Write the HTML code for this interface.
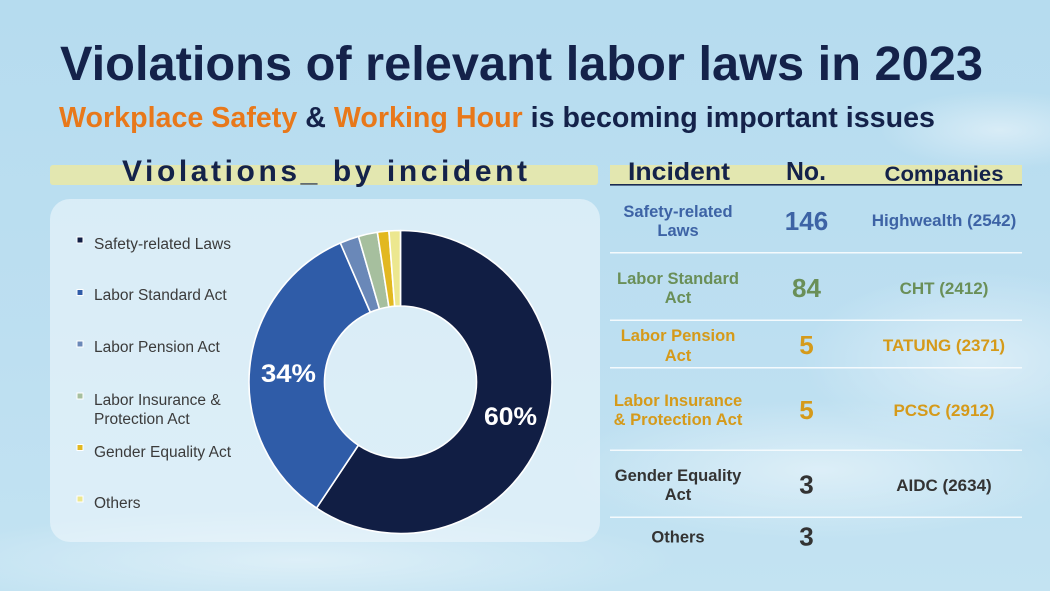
<!DOCTYPE html>
<html><head><meta charset="utf-8"><style>
html,body{margin:0;padding:0;}
body{width:1050px;height:591px;overflow:hidden;}
svg{display:block;}
</style></head><body>
<svg width="1050" height="591" viewBox="0 0 1050 591" xmlns="http://www.w3.org/2000/svg">
<defs>
<linearGradient id="sky" x1="0" y1="0" x2="0" y2="1">
<stop offset="0" stop-color="#b6dcef"/>
<stop offset="0.6" stop-color="#bddff1"/>
<stop offset="1" stop-color="#c3e3f2"/>
</linearGradient>
<radialGradient id="c1" cx="0.5" cy="0.5" r="0.5">
<stop offset="0" stop-color="#ffffff" stop-opacity="0.45"/>
<stop offset="1" stop-color="#ffffff" stop-opacity="0"/>
</radialGradient>
</defs>
<rect width="1050" height="591" fill="url(#sky)"/>
<ellipse cx="980" cy="360" rx="180" ry="90" fill="url(#c1)"/>
<ellipse cx="820" cy="470" rx="260" ry="70" fill="url(#c1)"/>
<ellipse cx="300" cy="560" rx="380" ry="50" fill="url(#c1)"/>
<ellipse cx="1000" cy="130" rx="120" ry="40" fill="url(#c1)"/>

<g font-family="'Liberation Sans', Arial, sans-serif" font-weight="bold">
<text x="60" y="80" font-size="48" fill="#14224a" textLength="923" lengthAdjust="spacingAndGlyphs">Violations of relevant labor laws in 2023</text>
<text x="59" y="127" font-size="28.5" fill="#14224a" textLength="876" lengthAdjust="spacingAndGlyphs"><tspan fill="#e8781a">Workplace Safety</tspan> &amp; <tspan fill="#e8781a">Working Hour</tspan> is becoming important issues</text>
</g>

<!-- section header band -->
<rect x="50" y="165" width="548" height="20" rx="3" fill="#e3e7b0"/>
<text x="122" y="181" font-family="'Liberation Sans', Arial, sans-serif" font-weight="bold" font-size="30" fill="#14224a" textLength="405" lengthAdjust="spacing">Violations_ by incident</text>

<!-- table header -->
<rect x="610" y="165" width="412" height="19" fill="#e3e7b0"/>
<rect x="610" y="184" width="412" height="1.6" fill="#1c2a50"/>
<g font-family="'Liberation Sans', Arial, sans-serif" font-weight="bold" fill="#14224a" text-anchor="middle">
<text x="679" y="180" font-size="25" textLength="102" lengthAdjust="spacingAndGlyphs">Incident</text>
<text x="806" y="180" font-size="26" textLength="40" lengthAdjust="spacingAndGlyphs">No.</text>
<text x="944" y="181" font-size="21" textLength="119" lengthAdjust="spacingAndGlyphs">Companies</text>
</g>

<!-- panel -->
<rect x="50" y="199" width="550" height="343" rx="20" fill="#eef7fb" fill-opacity="0.6"/>

<!-- legend -->
<g font-family="'Liberation Sans', Arial, sans-serif" font-size="15.5" fill="#3b3b3b">
<rect x="77" y="237" width="6" height="6" fill="#111e44" stroke="#fff" stroke-width="1"/>
<text x="94" y="249">Safety-related Laws</text>
<rect x="77" y="289.5" width="6" height="6" fill="#2f5ca8" stroke="#fff" stroke-width="1"/>
<text x="94" y="300">Labor Standard Act</text>
<rect x="77" y="341" width="6" height="6" fill="#6a88b8" stroke="#fff" stroke-width="1"/>
<text x="94" y="352">Labor Pension Act</text>
<rect x="77" y="393" width="6" height="6" fill="#a6bf9e" stroke="#fff" stroke-width="1"/>
<text x="94" y="405">Labor Insurance &amp;</text>
<text x="94" y="424">Protection Act</text>
<rect x="77" y="444.5" width="6" height="6" fill="#e2b820" stroke="#fff" stroke-width="1"/>
<text x="94" y="457">Gender Equality Act</text>
<rect x="77" y="496" width="6" height="6" fill="#ece78f" stroke="#fff" stroke-width="1"/>
<text x="94" y="508">Others</text>
</g>

<!-- donut -->
<g stroke="#ffffff" stroke-width="1.6" stroke-linejoin="round">
<path d="M400.5,230.5 A151.5,151.5 0 1 1 316.52,508.09 L358.37,445.25 A76,76 0 1 0 400.5,306 Z" fill="#111e44"/>
<path d="M316.52,508.09 A151.5,151.5 0 0 1 340.31,242.97 L370.31,312.25 A76,76 0 0 0 358.37,445.25 Z" fill="#2f5ca8"/>
<path d="M340.31,242.97 A151.5,151.5 0 0 1 358.49,236.44 L379.43,308.98 A76,76 0 0 0 370.31,312.25 Z" fill="#6a88b8"/>
<path d="M358.49,236.44 A151.5,151.5 0 0 1 377.37,232.27 L388.89,306.89 A76,76 0 0 0 379.43,308.98 Z" fill="#a6bf9e"/>
<path d="M377.37,232.27 A151.5,151.5 0 0 1 388.91,230.94 L394.69,306.22 A76,76 0 0 0 388.89,306.89 Z" fill="#e2b820"/>
<path d="M388.91,230.94 A151.5,151.5 0 0 1 400.5,230.5 L400.5,306 A76,76 0 0 0 394.69,306.22 Z" fill="#ece78f"/>
</g>
<g font-family="'Liberation Sans', Arial, sans-serif" font-weight="bold" fill="#ffffff" text-anchor="middle" font-size="25">
<text x="288.5" y="382" textLength="55" lengthAdjust="spacingAndGlyphs">34%</text>
<text x="510.5" y="425" textLength="53" lengthAdjust="spacingAndGlyphs">60%</text>
</g>

<!-- table separators -->
<g fill="#f4fafd">
<rect x="610" y="252" width="412" height="1.5"/>
<rect x="610" y="319.5" width="412" height="1.5"/>
<rect x="610" y="367" width="412" height="1.5"/>
<rect x="610" y="449.5" width="412" height="1.5"/>
<rect x="610" y="516.5" width="412" height="1.5"/>
</g>

<!-- table rows -->
<g font-family="'Liberation Sans', Arial, sans-serif" font-weight="bold" text-anchor="middle">
<g fill="#3d63a5">
<text x="678" y="217" font-size="16.5">Safety-related</text>
<text x="678" y="236" font-size="16.5">Laws</text>
<text x="806.5" y="230" font-size="26">146</text>
<text x="944" y="226" font-size="17">Highwealth (2542)</text>
</g>
<g fill="#6a8f58">
<text x="678" y="284" font-size="16.5">Labor Standard</text>
<text x="678" y="303" font-size="16.5">Act</text>
<text x="806.5" y="297" font-size="26">84</text>
<text x="944" y="294" font-size="17">CHT (2412)</text>
</g>
<g fill="#d59a1a">
<text x="678" y="341" font-size="16.5">Labor Pension</text>
<text x="678" y="361" font-size="16.5">Act</text>
<text x="806.5" y="354" font-size="26">5</text>
<text x="944" y="351" font-size="17">TATUNG (2371)</text>
<text x="678" y="406" font-size="16.5">Labor Insurance</text>
<text x="678" y="425" font-size="16.5">&amp; Protection Act</text>
<text x="806.5" y="419" font-size="26">5</text>
<text x="944" y="416" font-size="17">PCSC (2912)</text>
</g>
<g fill="#333333">
<text x="678" y="481" font-size="16.5">Gender Equality</text>
<text x="678" y="500" font-size="16.5">Act</text>
<text x="806.5" y="493.5" font-size="26">3</text>
<text x="944" y="491" font-size="17">AIDC (2634)</text>
<text x="678" y="542.5" font-size="16.5">Others</text>
<text x="806.5" y="545.5" font-size="26">3</text>
</g>
</g>
</svg>
</body></html>
